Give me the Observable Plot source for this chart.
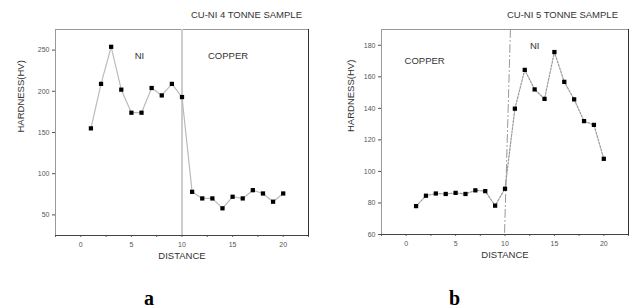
<!DOCTYPE html>
<html><head><meta charset="utf-8">
<script src="https://cdn.jsdelivr.net/npm/d3@7"></script>
<script src="https://cdn.jsdelivr.net/npm/@observablehq/plot@0.6"></script>
<style>
body{margin:0;background:#fff;width:637px;height:308px;position:relative;overflow:hidden;font-family:"Liberation Sans",Arial,sans-serif}
.panel{position:absolute;top:0}
.title{position:absolute;top:9px;font-size:9.5px;line-height:11px;color:#333;white-space:nowrap}
.letter{position:absolute;top:290px;font-family:"Liberation Serif","Times New Roman",serif;font-weight:bold;font-size:20px;line-height:16px;color:#000}
</style></head><body>
<div id="a" class="panel" style="left:0"></div>
<div id="b" class="panel" style="left:320px"></div>
<div class="title" style="right:335px">CU-NI 4 TONNE SAMPLE</div>
<div class="title" style="right:19px">CU-NI 5 TONNE SAMPLE</div>
<div class="letter" style="left:144px">a</div>
<div class="letter" style="left:449px">b</div>
<script>
// ---- data ----
const distanceA = [1,2,3,4,5,6,7,8,9,10,11,12,13,14,15,16,17,18,19,20];
const hardnessA = [155,209,254,202,174,174,204,195,209,193,78,70,70,58,72,70,80,76,66,76];
const distanceB = [1,2,3,4,5,6,7,8,9,10,11,12,13,14,15,16,17,18,19,20];
const hardnessB = [78,84.6,86,85.7,86.4,85.7,88,87.5,78.3,89,139.8,164.4,152,146,175.7,156.8,145.7,131.9,129.5,108];
const xTicks = [0,5,10,15,20];
const xAllTicks = [-2.5,0,2.5,5,7.5,10,12.5,15,17.5,20,22.5];
const yTicksA = [50,100,150,200,250];
const yTicksB = [60,80,100,120,140,160,180];
const boundaryA = [10];
const boundaryB = [{x:10.55,y:190},{x:9.95,y:60}];
const regionLabelsA = [{x:5.8,y:242.7,t:"NI"},{x:14.55,y:242.7,t:"COPPER"}];
const regionLabelsB = [{x:1.87,y:169.8,t:"COPPER"},{x:13.0,y:179.4,t:"NI"}];

const dataA = distanceA.map((d,i)=>({d, h:hardnessA[i]}));
const dataB = distanceB.map((d,i)=>({d, h:hardnessB[i]}));

const font = "Liberation Sans, Arial, sans-serif";

function common(data, yTicks, labels, extra, lineStroke, lineDash){
  return [
    Plot.frame({stroke:"#999", strokeWidth:1}),
    ...extra,
    Plot.line(data, {x:"d", y:"h", stroke:lineStroke, strokeWidth:1.2, strokeDasharray: lineDash}),
    Plot.dot(data, {x:"d", y:"h", symbol:"square", r:2.4, fill:"#000", stroke:"none"}),
    Plot.axisX({ticks:xTicks, tickSize:0, tickPadding:7, fontSize:7, color:"#555", label:null}),
    Plot.axisX({ticks:xAllTicks, tickSize:2, text:null, stroke:"#666", label:null}),
    Plot.axisY({ticks:yTicks, tickSize:3, tickPadding:3, fontSize:7, color:"#555", label:null}),
    Plot.frame({anchor:"bottom", stroke:"#444", strokeWidth:1}),
    Plot.frame({anchor:"right", stroke:"#333", strokeWidth:1}),
    Plot.text(labels, {x:"x", y:"y", text:"t", fontSize:9.5, fill:"#333"}),
    Plot.text(["DISTANCE"], {frameAnchor:"bottom", dy:23, fontSize:9.5, fill:"#333"}),
  ];
}

const plotA = Plot.plot({
  width:320, height:308,
  marginLeft:55, marginRight:12, marginTop:29, marginBottom:73,
  style:{fontFamily:font, background:"white", overflow:"visible"},
  x:{domain:[-2.5,22.5]},
  y:{domain:[25,275]},
  marks:[
    ...common(dataA, yTicksA, regionLabelsA, [
      Plot.ruleX(boundaryA, {stroke:"#ccc", strokeWidth:2})
    ], "#bbb", null),
    Plot.text(["HARDNESS(HV)"], {frameAnchor:"left", dx:-35, rotate:-90, fontSize:9.5, fill:"#333"})
  ]
});
document.getElementById("a").append(plotA);

const plotB = Plot.plot({
  width:317, height:308,
  marginLeft:61, marginRight:9, marginTop:29, marginBottom:74,
  style:{fontFamily:font, background:"white", overflow:"visible"},
  x:{domain:[-2.5,22.5]},
  y:{domain:[60,190]},
  marks:[
    ...common(dataB, yTicksB, regionLabelsB, [
      Plot.line(boundaryB, {x:"x", y:"y", stroke:"#999", strokeWidth:1, strokeDasharray:"8,3,1,3"})
    ], "#999", "2,1.5"),
    Plot.text(["HARDNESS(HV)"], {frameAnchor:"left", dx:-31, rotate:-90, fontSize:9.5, fill:"#333"})
  ]
});
document.getElementById("b").append(plotB);
</script>
</body></html>
